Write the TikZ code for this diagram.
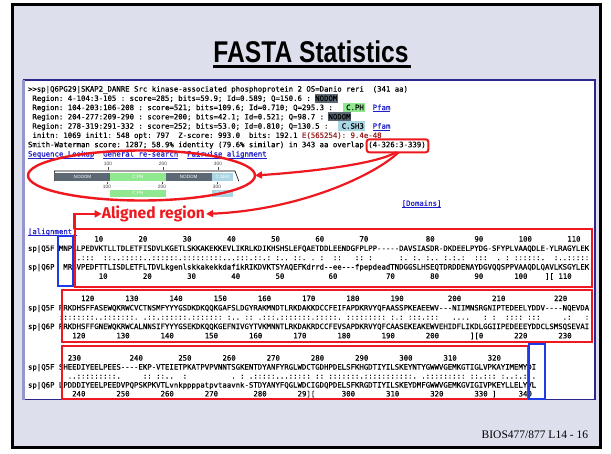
\documentclass[tikz,border=0pt]{standalone}
\usepackage{fontspec}
\usepackage{graphicx}
\setmainfont{Liberation Serif}
\setsansfont{Liberation Sans}
\setmonofont[FakeBold=0.3]{DejaVu Sans Mono}
\newfontfamily\headfont{Liberation Sans}
\newfontfamily\notefont{Fira Sans}
\usetikzlibrary{arrows.meta,shapes.geometric}

\definecolor{slide}{RGB}{221,223,237}
\definecolor{mark}{RGB}{238,24,30}
\definecolor{boxblue}{RGB}{30,60,230}
\definecolor{panelblue}{RGB}{40,40,140}
\definecolor{lavline}{RGB}{150,152,205}
\definecolor{linkblue}{RGB}{30,30,200}
\definecolor{evalred}{RGB}{150,30,30}
\definecolor{nodom}{RGB}{92,104,116}
\definecolor{cph}{RGB}{144,232,144}
\definecolor{csh}{RGB}{170,214,228}

\newcommand\seqf{\ttfamily\fontsize{7.34}{9}\selectfont}
\newcommand\lnk[1]{\textcolor{linkblue}{\underline{\smash{#1}}}}

\tikzset{
  txt/.style={anchor=base west,inner sep=0pt,outer sep=0pt,font=\seqf},
  num/.style={anchor=base east,inner sep=0pt,outer sep=0pt,font=\seqf},
  redbox/.style={draw=mark,line width=2pt,anchor=north west,inner sep=0pt,outer sep=0pt},
  bluebox/.style={draw=boxblue,line width=2pt,anchor=north west,inner sep=0pt,outer sep=0pt},
  callout/.style={draw=mark,line width=2.2pt,-{Triangle[length=7pt,width=7pt]}},
  dseg/.style={anchor=north west,inner sep=0pt,outer sep=0pt,text=white,font=\sffamily\fontsize{4.6}{5}\selectfont},
  scaletick/.style={draw=black!70,line width=0.5pt},
  scalenum/.style={inner sep=0pt,font=\sffamily\fontsize{4.8}{5}\selectfont,text=black!75},
}

\begin{document}
\begin{tikzpicture}[x=1pt,y=-1pt]
\useasboundingbox (0,0) rectangle (611,453);
\fill[white] (0,0) rectangle (611,453);
\draw[line width=3pt,fill=slide] (12.5,4.5) rectangle (600.5,447.5);

% title
\node[inner sep=0pt,anchor=base] (title) at (311,62)
  {\headfont\bfseries\fontsize{30}{30}\selectfont\scalebox{0.82}[1]{FASTA Statistics}};
\draw[line width=2.6pt] ([yshift=-4.6pt]title.base west) -- ([yshift=-4.6pt,xshift=2pt]title.base east);

% white result panel
\draw[panelblue,line width=1.2pt,fill=white] (24,80) rectangle (595,399.5);
\draw[lavline,line width=2.5pt] (23.3,80) -- (23.3,400);

% domain tags behind the region lines
\fill[nodom] (314.8,93.6) rectangle (337.9,102.7);
\fill[cph]   (343,102.8) rectangle (364.5,111.9);
\fill[nodom] (328.1,112.1) rectangle (351.2,121.2);
\fill[csh]   (338,121.4) rectangle (365,130.5);

% header of the hit
\node[txt] (h0) at (28,91.6) {>>sp|Q6PG29|SKAP2\_DANRE Src kinase-associated phosphoprotein 2 OS=Danio reri~~(341 aa)};
\node[txt] (h1) at (28,100.9) {~Region: 4-104:3-105 : score=285; bits=59.9; Id=0.589; Q=150.6 : NODOM};
\node[txt] (h2) at (28,110.1) {~Region: 104-203:106-208 : score=521; bits=109.6; Id=0.710; Q=295.3 :~~~C.PH~~\lnk{Pfam}};
\node[txt] (h3) at (28,119.4) {~Region: 204-277:209-290 : score=200; bits=42.1; Id=0.521; Q=98.7 : NODOM};
\node[txt] (h4) at (28,128.7) {~Region: 278-319:291-332 : score=252; bits=53.0; Id=0.810; Q=130.5 :~~~C.SH3~~\lnk{Pfam}};
\node[txt] (h5) at (28,137.9) {~initn: 1069 init1: 548 opt: 797~~Z-score: 993.0~~bits: 192.1 \textcolor{evalred}{E(565254): 9.4e-48}};
\node[txt] (h6) at (28,147.2) {Smith-Waterman score: 1287; 58.9\% identity (79.6\% similar) in 343 aa overlap (4-326:3-339)};
\node[txt] (h7) at (28,156.5) {\lnk{Sequence Lookup}~~\lnk{General re-search}~~\lnk{Pairwise alignment}};

% domain graphic
\foreach \lab/\xx in {100/108,200/163,300/218} {
  \node[scalenum] (st\lab) at (\xx,164.3) {\lab};
  \draw[scaletick] (\xx,167.4) -- (\xx,170);
}
\draw[line width=0.6pt] (54.3,181.2) -- (54.3,171) -- (235,171) -- (238.8,181.2);
\node[dseg,fill=nodom,minimum width=55pt,minimum height=8.3pt]   (dq1) at (55,172.7) {NODOM};
\node[dseg,fill=cph,minimum width=55.7pt,minimum height=8.3pt]   (dq2) at (110,172.7) {C.PH};
\node[dseg,fill=nodom,minimum width=46pt,minimum height=8.3pt]   (dq3) at (165.7,172.7) {NODOM};
\node[dseg,fill=csh,minimum width=21.6pt,minimum height=8.3pt]   (dq4) at (211.7,172.7) {C.SH3};
\foreach \lab/\xx in {100/107,200/162,300/217} {
  \draw[scaletick] (\xx,181.5) -- (\xx,184);
  \node[scalenum] (sb\lab) at (\xx,186.8) {\lab};
}
\node[dseg,fill=cph,minimum width=55.7pt,minimum height=6.5pt] (ds1) at (110,190) {C.PH};
\node[dseg,fill=csh,minimum width=21.6pt,minimum height=6.5pt] (ds2) at (211.7,190) {C.SH3};

\node[txt] (dom) at (401.7,205.9) {\lnk{[Domains]}};
\node[txt] (aln) at (28,234.1) {\lnk{[alignment]}};

% alignment, block 1
\foreach \lab/\c in {10/10,20/20,30/30,40/40,50/50,60/60,70/70,80/85,90/96,100/107,110/118}
  \node[num] (ta\c) at ({28+(7+\c)*4.42},241.6) {\lab};
\node[txt] (qa) at (28,250.9) {sp|Q5F MNPALPEDVKTLLTDLETFISDVLKGETLSKKAKEKKEVLIKRLKDIKHSHSLEFQAETDDLEENDGFPLPP-----DAVSIASDR-DKDEELPYDG-SFYPLVAAQDLE-YLRAGYLEK};
\node[txt] (ma) at (58.94,260.2) {~~~..:::~~::..:::::..::::::.:::::::::...:::.::.:~:..~::.~.~:~~::~~~::~:~~~~~~:.~:.~:..~:.:.:~~:::~~.~:~::::::.~~:..:::::};
\node[txt] (sa) at (28,269.5) {sp|Q6P~~MRGVPEDFTTLISDLETFLTDVLkgenlskkakekkdafikRIKDVKTSYAQEFKdrrd--ee---fpepdeadTNDGGSLHSEQTDRDDENAYDGVQQSPPVAAQDLQAVLKSGYLEK};
\foreach \lab/\c in {10/11,20/21,30/31,40/41,50/51,60/63,70/76,80/86,90/96,100/106,110/116}
  \node[num] (ba\c) at ({28+(7+\c)*4.42},278.8) {\lab};
\node[num] (bam) at ({28+(7+112)*4.42},278.8) {][};

% alignment, block 2
\foreach \lab/\c in {120/8,130/18,140/28,150/38,160/48,170/58,180/68,190/78,200/91,210/101,220/115}
  \node[num] (tb\c) at ({28+(7+\c)*4.42},301.1) {\lab};
\node[txt] (qb) at (28,310.4) {sp|Q5F RRKDHSFFASEWQKRWCVCTNSMFYYYGSDKDKQQKGAFSLDGYRAKMNDTLRKDAKKDCCFEIFAPDKRVYQFAASSPKEAEEWV---NIIMNSRGNIPTEDEELYDDV----NQEVDA};
\node[txt] (mb) at (58.94,319.7) {::::::::..:::::::.~.::.::::::.:::::::~:..~::~.:::.:::::::.:::::.~:::::::::~:.:~:::.:::~~~....~~~:~:~~::::~:::~~~~~.:~~~:};
\node[txt] (sb) at (28,329.0) {sp|Q6P RRKDHSFFGNEWQKRWCALNNSIFYYYGSEKDKQQKGEFNIVGYTVKMNNTLRKDAKRDCCFEVSAPDKRVYQFCAASEKEAKEWVEHIDFLIKDLGGIIPEDEEEYDDCLSMSQSEVAI};
\foreach \lab/\c in {120/6,130/16,140/26,150/36,160/46,170/56,180/66,190/76,200/86,220/106,230/116}
  \node[num] (bb\c) at ({28+(7+\c)*4.42},338.3) {\lab};
\node[num] (bbm) at ({28+(7+96)*4.42},338.3) {][0};

% alignment, block 3
\foreach \lab/\c in {230/5,240/19,250/30,260/40,270/50,280/60,290/70,300/80,310/90,320/100}
  \node[num] (tc\c) at ({28+(7+\c)*4.42},360.6) {\lab};
\node[txt] (qc) at (28,369.6) {sp|Q5F SHEEDIYEELPEES----EKP-VTEIETPKATPVPVNNTSGKENTDYANFYRGLWDCTGDHPDELSFKHGDTIYILSKEYNTYGWWVGEMKGTIGLVPKAYIMEMYDI};
\node[txt] (mc) at (58.94,378.6) {~~..:::::::::.~~~~~::~::..~~:~~~~~~~~~~.~:~.:::::...:::::~::~:::::::.:::::::::::.~.:::::::::~::.:::~:..:.:~.};
\node[txt] (sc) at (28,387.6) {sp|Q6P LPDDDIYEELPEEDVPQPSKPKVTLvnkppppatpvtaavnk-STDYANYFQGLWDCIGDQPDELSFKRGDTIYILSKEYDMFGWWVGEMKGVIGIVPKEYLLELYVL};
\foreach \lab/\c in {240/6,250/16,260/26,270/36,280/47,300/67,310/77,320/87,330/97,340/107}
  \node[num] (bc\c) at ({28+(7+\c)*4.42},396.4) {\lab};
\node[num] (bcm) at ({28+(7+58)*4.42},396.4) {29][};
\node[num] (bce) at ({28+(7+99)*4.42},396.4) {]};

% marked regions
\node[redbox,minimum width=517pt,minimum height=57.5pt] (r1) at (74.5,229) {};
\node[redbox,minimum width=530pt,minimum height=52.5pt] (r2) at (61.5,289.5) {};
\node[redbox,minimum width=466pt,minimum height=52.5pt] (r3) at (61.5,346) {};
\node[bluebox,minimum width=15.5pt,minimum height=50.5pt] (b1) at (57.5,235.5) {};
\node[bluebox,minimum width=15.2pt,minimum height=54.5pt] (b3) at (529.3,344) {};

\node[draw=mark,line width=2.4pt,ellipse,minimum width=227pt,minimum height=50pt,inner sep=0pt,outer sep=0pt] (ell) at (141.5,175.5) {};
\node[draw=mark,line width=2pt,rounded corners=2.5pt,minimum width=61.6pt,minimum height=13pt,inner sep=0pt,outer sep=0pt] (ovl) at (397.5,145.8) {};

\node[inner sep=0pt,anchor=base west] (aligned) at (101.7,218.5)
  {\resizebox{103pt}{!}{\notefont\bfseries\color{mark}Aligned region}};

\draw[callout] (r1.north west) |- (aligned.west);
\draw[callout] ([xshift=-1.5pt]ovl.south) .. controls (378,163) and (320,171) .. (ell.east);
\draw[callout] ([xshift=1pt]ovl.south) .. controls (375,175) and (300,210) .. ([xshift=1pt]aligned.east);

% footer
\node[inner sep=0pt,anchor=base east,font=\fontsize{11.5}{12}\selectfont] (foot) at (588.3,438) {BIOS477/877 L14 - 16};
\end{tikzpicture}
\end{document}
